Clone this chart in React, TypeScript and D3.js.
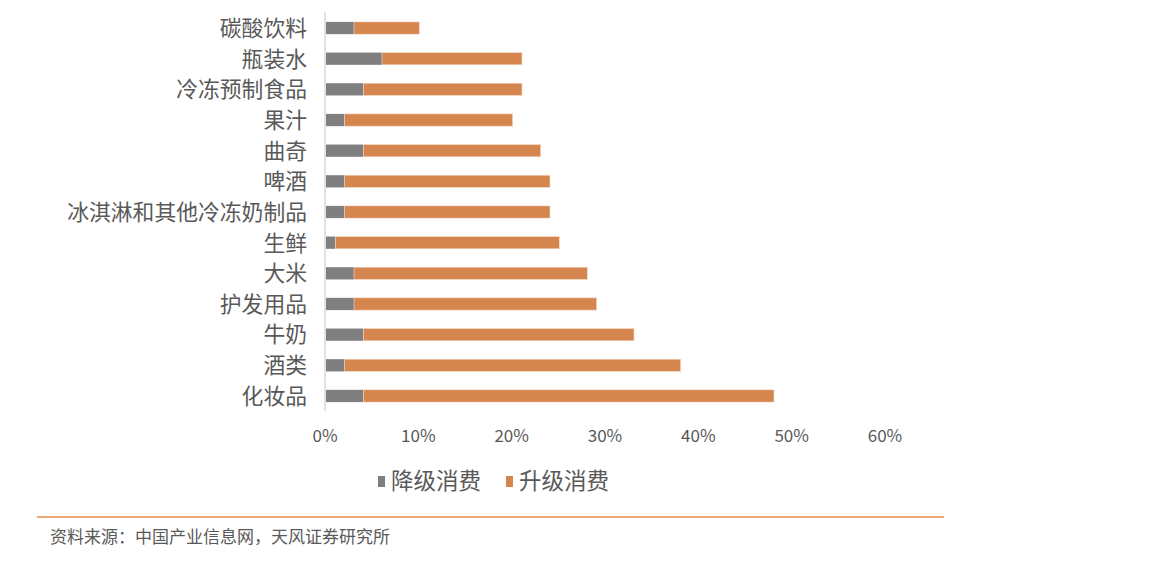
import React, { useEffect, useRef } from 'react';
import * as d3 from 'd3';

// categories top -> bottom
const categories = [
  '碳酸饮料', '瓶装水', '冷冻预制食品', '果汁', '曲奇', '啤酒',
  '冰淇淋和其他冷冻奶制品', '生鲜', '大米', '护发用品', '牛奶', '酒类', '化妆品'
];
// 降级消费 (%)
const downgrade = [3, 6, 4, 2, 4, 2, 2, 1, 3, 3, 4, 2, 4];
// 升级消费 (%)
const upgrade = [7, 15, 17, 18, 19, 22, 22, 24, 25, 26, 29, 36, 44];
const xTicks = [0, 10, 20, 30, 40, 50, 60];
const seriesNames = ['降级消费', '升级消费'];
const colors = ['#7f7f7f', '#d5864f'];
const source = '资料来源：中国产业信息网，天风证券研究所';

const FONT = '"Noto Sans CJK SC", "Noto Sans", sans-serif';

function App() {
  const ref = useRef<SVGSVGElement>(null);

  useEffect(() => {
    const svg = d3.select(ref.current);
    svg.selectAll('*').remove();

    const x = d3.scaleLinear().domain([0, 60]).range([326, 886]);
    const y = d3.scaleBand<string>()
      .domain(categories)
      .range([12.7, 411.3])
      .paddingInner(0.6)
      .paddingOuter(0.3);

    const rows = categories.map((c, i) => ({ c, d: downgrade[i], u: upgrade[i] }));

    // axis line
    svg.append('line')
      .attr('x1', x(0) - 1).attr('x2', x(0) - 1)
      .attr('y1', 12).attr('y2', 411)
      .attr('stroke', '#d9d9d9').attr('stroke-width', 1.5);

    // bars
    const g = svg.append('g');
    g.selectAll('rect.down')
      .data(rows)
      .join('rect')
      .attr('class', 'down')
      .attr('x', x(0))
      .attr('y', d => y(d.c)!)
      .attr('width', d => x(d.d) - x(0))
      .attr('height', y.bandwidth())
      .attr('fill', colors[0]);
    g.selectAll('rect.up')
      .data(rows)
      .join('rect')
      .attr('class', 'up')
      .attr('x', d => x(d.d))
      .attr('y', d => y(d.c)!)
      .attr('width', d => x(d.d + d.u) - x(d.d))
      .attr('height', y.bandwidth())
      .attr('fill', colors[1])
      .attr('stroke', '#f6dccb')
      .attr('stroke-width', 0.6);

    // category labels
    svg.append('g').selectAll('text')
      .data(categories)
      .join('text')
      .attr('x', 307)
      .attr('y', d => y(d)! + y.bandwidth() / 2)
      .attr('dy', '0.36em')
      .attr('text-anchor', 'end')
      .attr('font-family', FONT)
      .attr('font-size', 21.8)
      .attr('fill', '#595959')
      .text(d => d);

    // x tick labels
    svg.append('g').selectAll('text')
      .data(xTicks)
      .join('text')
      .attr('x', d => x(d) - 1)
      .attr('y', 442)
      .attr('text-anchor', 'middle')
      .attr('font-family', FONT)
      .attr('font-size', 17)
      .attr('fill', '#595959')
      .text(d => `${d}%`);

    // legend
    const legendX = [378, 506];
    const lg = svg.append('g');
    seriesNames.forEach((name, i) => {
      lg.append('rect')
        .attr('x', legendX[i]).attr('y', 476)
        .attr('width', 7).attr('height', 11)
        .attr('fill', colors[i]);
      lg.append('text')
        .attr('x', legendX[i] + 13).attr('y', 489)
        .attr('font-family', FONT)
        .attr('font-size', 22.5)
        .attr('fill', '#595959')
        .text(name);
    });

    // bottom rule and source
    svg.append('line')
      .attr('x1', 37).attr('x2', 944)
      .attr('y1', 517).attr('y2', 517)
      .attr('stroke', '#eba979').attr('stroke-width', 2);
    svg.append('text')
      .attr('x', 50).attr('y', 543)
      .attr('font-family', FONT)
      .attr('font-size', 17)
      .attr('fill', '#595959')
      .text(source);
  }, []);

  return (
    <svg
      ref={ref}
      width={1154}
      height={568}
      style={{ position: 'absolute', left: 0, top: 0, background: '#fff' }}
    />
  );
}

export default App;
